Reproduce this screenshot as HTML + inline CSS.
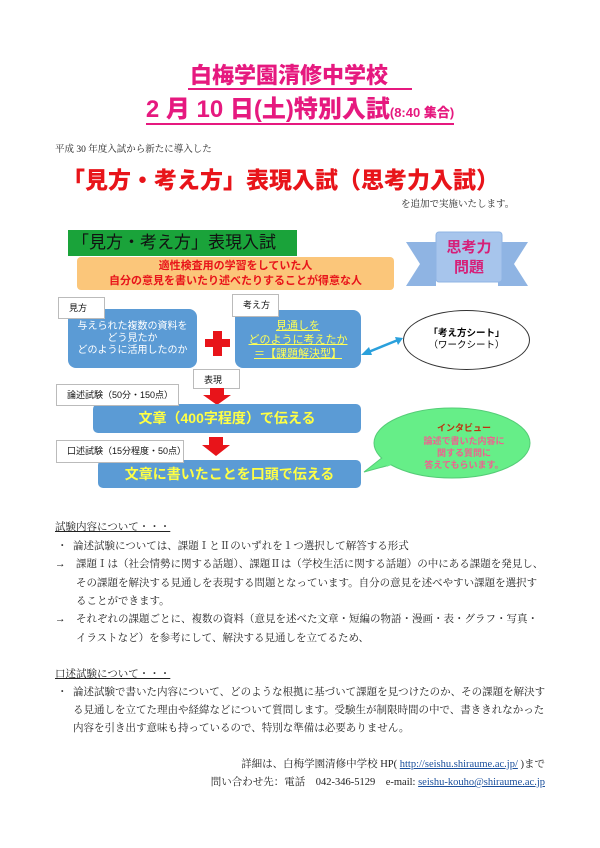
<!DOCTYPE html>
<html><head><meta charset="utf-8"><style>
body{margin:0;width:600px;height:848px;background:#fff;position:relative;overflow:hidden;font-family:"Liberation Serif","Noto Serif CJK SC","Noto Sans CJK JP",serif;}
.a{position:absolute;white-space:nowrap;}
.g{font-family:"Liberation Sans","Noto Sans CJK JP",sans-serif;}
.lbl{position:absolute;background:#fff;border:1px solid #bbb;font-family:"Liberation Sans","Noto Sans CJK JP",sans-serif;font-size:9px;color:#111;box-sizing:border-box;padding:3px 0 0 10px;}
.blue{position:absolute;background:#5b9bd5;border-radius:8px;}
.t{font-size:10.5px;color:#222;line-height:18.5px;}
</style></head><body>
<div class="a g" style="left:0;width:600px;top:58px;text-align:center;font-size:22px;font-weight:900;color:#e6197f;"><span style="border-bottom:2px solid #e6197f;padding:0 24px 0 2px">白梅学園清修中学校</span></div>
<div class="a g" style="left:0;width:600px;top:89px;text-align:center;font-size:24px;font-weight:900;color:#e6197f;"><span style="border-bottom:2px solid #e6197f">2 月 10 日(土)特別入試<span style="font-size:13px">(8:40 集合)</span></span></div>
<div class="a t" style="left:55px;top:141px;font-size:9.5px">平成 30 年度入試から新たに導入した</div>
<div class="a g" style="left:62px;top:161px;font-size:23px;font-weight:900;color:#e8141a;">「見方・考え方」表現入試（思考力入試）</div>
<div class="a t" style="left:401px;top:196px;font-size:9.5px">を追加で実施いたします。</div>

<!-- diagram -->
<div class="a g" style="left:68px;top:230px;width:229px;height:26px;background:#1aa33a;font-size:17px;color:#111;line-height:26px;padding-left:4px;box-sizing:border-box">「見方・考え方」表現入試</div>
<div class="a g" style="left:77px;top:257px;width:317px;height:33px;background:#fbc67a;border-radius:4px;font-size:11px;font-weight:bold;color:#e8141a;text-align:center;line-height:15px;padding-top:2px;box-sizing:border-box">適性検査用の学習をしていた人<br>自分の意見を書いたり述べたりすることが得意な人</div>
<svg class="a" style="left:400px;top:228px" width="135" height="64">
<polygon points="6,14 36,14 36,58 6,58 20,36" fill="#8fb4e3"/>
<polygon points="128,14 98,14 98,58 128,58 114,36" fill="#8fb4e3"/>
<rect x="36" y="4" width="66" height="50" rx="3" fill="#a7c5ec" stroke="#8fb4e3"/>
<text x="69" y="24" text-anchor="middle" font-size="15" font-weight="bold" fill="#d61f78" font-family="Liberation Sans,Noto Sans CJK JP,sans-serif">思考力</text>
<text x="69" y="44" text-anchor="middle" font-size="15" font-weight="bold" fill="#d61f78" font-family="Liberation Sans,Noto Sans CJK JP,sans-serif">問題</text>
</svg>
<div class="blue g" style="left:68px;top:309px;width:129px;height:59px;color:#fff;font-size:10px;text-align:center;line-height:12px;padding-top:12px;box-sizing:border-box">与えられた複数の資料を<br>どう見たか<br>どのように活用したのか</div>
<div class="lbl" style="left:58px;top:297px;width:47px;height:22px">見方</div>
<div class="a" style="left:205px;top:339px;width:25px;height:8px;background:#e8141a"></div>
<div class="a" style="left:213px;top:331px;width:9px;height:25px;background:#e8141a"></div>
<div class="blue g" style="left:235px;top:310px;width:126px;height:58px;color:#ffff55;font-size:11px;text-align:center;line-height:14px;padding-top:9px;box-sizing:border-box;text-decoration:underline">見通しを<br>どのように考えたか<br>＝【課題解決型】</div>
<div class="lbl" style="left:232px;top:294px;width:47px;height:23px">考え方</div>
<svg class="a" style="left:360px;top:334px" width="45" height="24"><line x1="6" y1="19" x2="38" y2="6" stroke="#2aa0dc" stroke-width="2.5"/><polygon points="1,21 9,13 12,21" fill="#2aa0dc"/><polygon points="43,4 35,3 38,11" fill="#2aa0dc"/></svg>
<div class="a g" style="left:403px;top:310px;width:127px;height:60px;border:1.5px solid #333;border-radius:50%;box-sizing:border-box;text-align:center;font-size:9.5px;line-height:12px;padding-top:17px"><b>「考え方シート」</b><br>（ワークシート）</div>
<div class="lbl" style="left:193px;top:369px;width:47px;height:20px">表現</div>
<svg class="a" style="left:203px;top:388px" width="30" height="18"><polygon points="7,0 21,0 21,7 28,7 14,17 0,7 7,7" fill="#e8141a"/></svg>
<div class="blue g" style="left:93px;top:404px;width:268px;height:29px;color:#ffff44;font-size:14px;font-weight:bold;text-align:center;line-height:29px;border-radius:5px">文章（400字程度）で伝える</div>
<div class="lbl" style="left:56px;top:384px;width:123px;height:22px">論述試験（50分・150点）</div>
<svg class="a" style="left:202px;top:437px" width="30" height="20"><polygon points="7,0 21,0 21,8 28,8 14,19 0,8 7,8" fill="#e8141a"/></svg>
<div class="blue g" style="left:98px;top:460px;width:263px;height:28px;color:#ffff44;font-size:14px;font-weight:bold;text-align:center;line-height:28px;border-radius:5px">文章に書いたことを口頭で伝える</div>
<div class="lbl" style="left:56px;top:440px;width:128px;height:23px">口述試験（15分程度・50点）</div>
<svg class="a" style="left:360px;top:405px" width="175" height="80"><path d="M30,60 L4,67 L28,48 Z" fill="#66ee88" stroke="#55cc77"/><ellipse cx="92" cy="38" rx="78" ry="35" fill="#66ee88" stroke="#55cc77"/><path d="M24,52 L30,60" stroke="#66ee88" stroke-width="6"/>
<g font-family="Liberation Sans,Noto Sans CJK JP,sans-serif" font-size="9" font-weight="bold" text-anchor="middle"><text x="104" y="26" fill="#c03010">インタビュー</text><text x="104" y="39" fill="#f06090">論述で書いた内容に</text><text x="104" y="51" fill="#f06090">関する質問に</text><text x="104" y="63" fill="#f06090">答えてもらいます。</text></g></svg>

<!-- text -->
<div class="a t" style="left:55px;top:519px;text-decoration:underline">試験内容について・・・</div>
<div class="a t" style="left:57px;top:538px">・</div><div class="a t" style="left:73px;top:538px">論述試験については、課題ⅠとⅡのいずれを１つ選択して解答する形式</div>
<div class="a t" style="left:55px;top:556px">→</div><div class="a t" style="left:76px;top:556px">課題Ⅰは（社会情勢に関する話題）、課題Ⅱは（学校生活に関する話題）の中にある課題を発見し、</div>
<div class="a t" style="left:76px;top:575px">その課題を解決する見通しを表現する問題となっています。自分の意見を述べやすい課題を選択す</div>
<div class="a t" style="left:76px;top:593px">ることができます。</div>
<div class="a t" style="left:55px;top:611px">→</div><div class="a t" style="left:76px;top:611px">それぞれの課題ごとに、複数の資料（意見を述べた文章・短編の物語・漫画・表・グラフ・写真・</div>
<div class="a t" style="left:76px;top:630px">イラストなど）を参考にして、解決する見通しを立てるため、</div>
<div class="a t" style="left:55px;top:666px;text-decoration:underline">口述試験について・・・</div>
<div class="a t" style="left:57px;top:684px">・</div><div class="a t" style="left:73px;top:684px">論述試験で書いた内容について、どのような根拠に基づいて課題を見つけたのか、その課題を解決す</div>
<div class="a t" style="left:73px;top:702px">る見通しを立てた理由や経緯などについて質問します。受験生が制限時間の中で、書ききれなかった</div>
<div class="a t" style="left:73px;top:720px">内容を引き出す意味も持っているので、特別な準備は必要ありません。</div>
<div class="a t" style="right:55px;top:756px">詳細は、白梅学園清修中学校 HP( <span style="color:#1a4f9c;text-decoration:underline">http://seishu.shiraume.ac.jp/</span> )まで</div>
<div class="a t" style="right:55px;top:774px">問い合わせ先：電話　042-346-5129　e-mail: <span style="color:#1a4f9c;text-decoration:underline">seishu-kouho@shiraume.ac.jp</span></div>
</body></html>
